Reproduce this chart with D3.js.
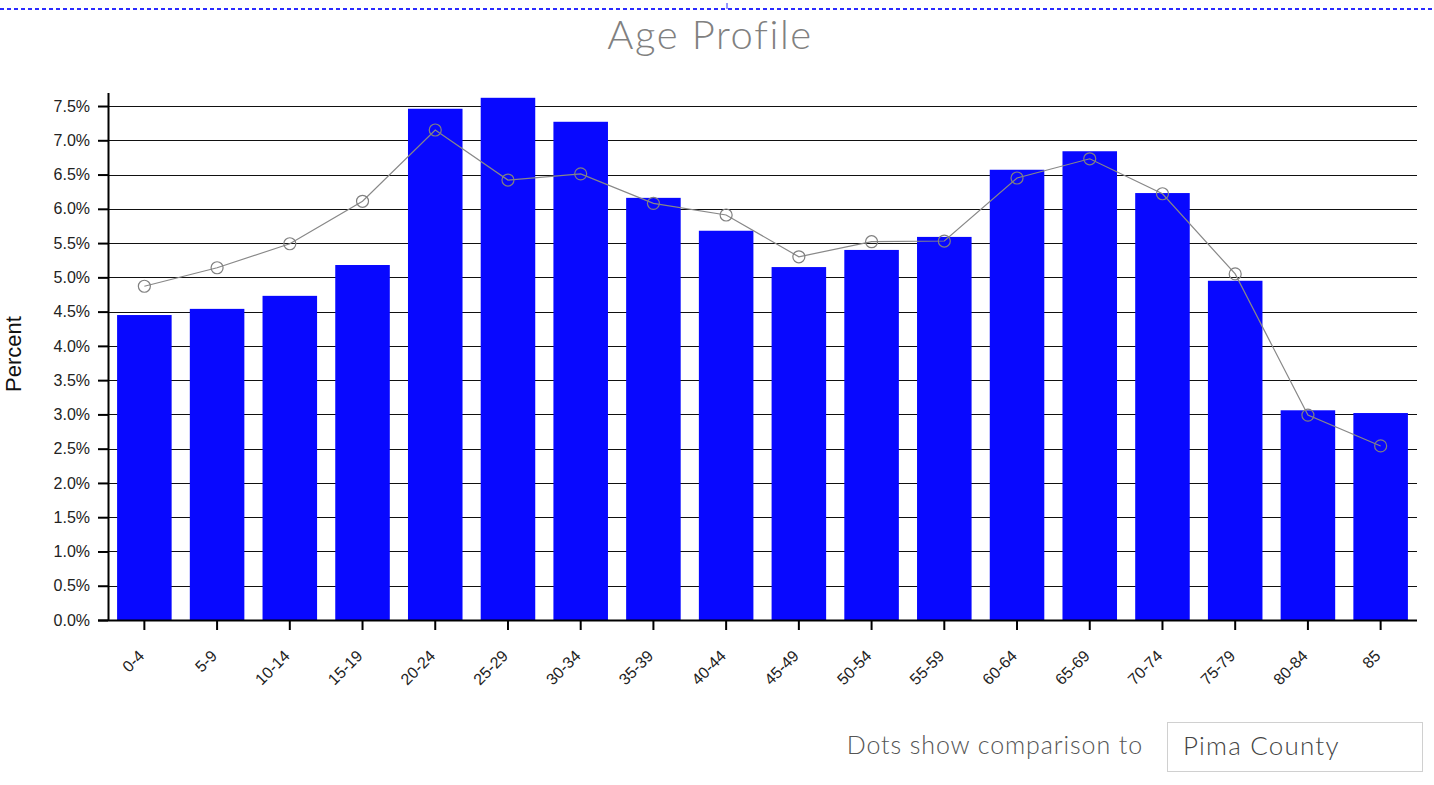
<!DOCTYPE html>
<html lang="en">
    <head>
        <meta charset="UTF-8" />
        <title>Age Profile</title>
        <style>
            body {
                margin: 0;
                width: 1434px;
                height: 785px;
                background: #fff;
                overflow: hidden;
            }
            svg {
                display: block;
            }
            .title {
                font: 300 40px "Lato", sans-serif;
                letter-spacing: 1.6px;
                fill: #808080;
            }
            .tick text {
                font: 16px "Liberation Sans", Arial, sans-serif;
                fill: #222;
            }
            .grid line {
                stroke: #111;
                stroke-width: 1px;
            }
            .axisLabel {
                font: 22px "Liberation Sans", Arial, sans-serif;
                fill: #111;
            }
            .note {
                font: 300 25px "Lato", sans-serif;
                letter-spacing: 0.9px;
                fill: #555;
            }
            .boxText {
                font: 300 26px "Lato", sans-serif;
                letter-spacing: 1.2px;
                fill: #444;
            }
        </style>
    </head>
    <body>
        <script src="https://cdnjs.cloudflare.com/ajax/libs/d3/7.9.0/d3.min.js"></script>
        <svg width="1434" height="785"></svg>
        <script>
            // age groups
            const ageGroups = ["0-4", "5-9", "10-14", "15-19", "20-24", "25-29", "30-34", "35-39", "40-44",
                "45-49", "50-54", "55-59", "60-64", "65-69", "70-74", "75-79", "80-84", "85"];
            // bar values (percent)
            const areaPct = [4.45, 4.54, 4.73, 5.18, 7.46, 7.62, 7.27, 6.16, 5.68,
                5.15, 5.40, 5.59, 6.57, 6.84, 6.23, 4.95, 3.06, 3.02];
            // comparison dots (Pima County, percent)
            const countyPct = [4.87, 5.14, 5.49, 6.11, 7.15, 6.42, 6.51, 6.08, 5.91,
                5.30, 5.52, 5.53, 6.45, 6.73, 6.22, 5.05, 2.99, 2.54];
            const yTicks = [0, 0.5, 1, 1.5, 2, 2.5, 3, 3.5, 4, 4.5, 5, 5.5, 6, 6.5, 7, 7.5];

            const svg = d3.select("svg");
            const plotLeft = 108, plotRight = 1417, plotTop = 93, plotBottom = 620;

            // dashed line at very top
            svg.append("line")
                .attr("x1", 0).attr("x2", 1434)
                .attr("y1", 9).attr("y2", 9)
                .attr("stroke", "#2b2bff")
                .attr("stroke-width", 2)
                .attr("stroke-dasharray", "4,3");
            svg.append("line")
                .attr("x1", 727).attr("x2", 727)
                .attr("y1", 3).attr("y2", 9)
                .attr("stroke", "#2b2bff");

            svg.append("text")
                .attr("class", "title")
                .attr("x", 710)
                .attr("y", 49)
                .attr("text-anchor", "middle")
                .text("Age Profile");

            const x = d3.scaleBand()
                .domain(ageGroups)
                .range([plotLeft, plotRight])
                .paddingInner(0.25)
                .paddingOuter(0.125);
            const y = d3.scaleLinear()
                .domain([0, 7.69])
                .range([plotBottom, plotTop]);

            // gridlines
            svg.append("g")
                .attr("class", "grid")
                .selectAll("line")
                .data(yTicks)
                .enter()
                .append("line")
                .attr("x1", plotLeft)
                .attr("x2", plotRight)
                .attr("y1", (d) => Math.round(y(d)) + 0.5)
                .attr("y2", (d) => Math.round(y(d)) + 0.5);

            // bars
            svg.append("g")
                .selectAll("rect")
                .data(ageGroups)
                .enter()
                .append("rect")
                .attr("x", (d) => x(d))
                .attr("width", x.bandwidth())
                .attr("y", (d, i) => y(areaPct[i]))
                .attr("height", (d, i) => plotBottom - y(areaPct[i]))
                .attr("fill", "#0808ff");

            // comparison line + dots
            const line = d3.line()
                .x((d, i) => x(ageGroups[i]) + x.bandwidth() / 2)
                .y((d) => y(d));
            svg.append("path")
                .datum(countyPct)
                .attr("d", line)
                .attr("fill", "none")
                .attr("stroke", "#888")
                .attr("stroke-width", 1.2);
            svg.append("g")
                .selectAll("circle")
                .data(countyPct)
                .enter()
                .append("circle")
                .attr("cx", (d, i) => x(ageGroups[i]) + x.bandwidth() / 2)
                .attr("cy", (d) => y(d))
                .attr("r", 6)
                .attr("fill", "none")
                .attr("stroke", "#808080")
                .attr("stroke-width", 1.2);

            // y axis
            const yAxis = svg.append("g")
                .attr("transform", "translate(" + plotLeft + ",0)")
                .call(d3.axisLeft(y).tickValues(yTicks).tickSize(10).tickPadding(8).tickFormat((d) => d.toFixed(1) + "%"));
            yAxis.select(".domain").attr("d", `M0.5,${plotTop}V${plotBottom}`).attr("stroke-width", 2);
            yAxis.selectAll(".tick line").attr("stroke-width", 2);

            // x axis
            const xAxis = svg.append("g")
                .attr("transform", "translate(0," + plotBottom + ")")
                .call(d3.axisBottom(x).tickSize(10));
            xAxis.select(".domain").attr("d", `M${plotLeft - 10},0.5H${plotRight}`).attr("stroke-width", 2);
            xAxis.selectAll(".tick line").attr("stroke-width", 2);
            xAxis.selectAll(".tick text")
                .attr("text-anchor", "end")
                .attr("x", 0)
                .attr("y", 0)
                .attr("dy", 0)
                .attr("transform", "translate(1,37) rotate(-45)");

            svg.append("text")
                .attr("class", "axisLabel")
                .attr("transform", "translate(21,354) rotate(-90)")
                .attr("text-anchor", "middle")
                .text("Percent");

            // comparison selector
            svg.append("text")
                .attr("class", "note")
                .attr("x", 1143)
                .attr("y", 754)
                .attr("text-anchor", "end")
                .text("Dots show comparison to");
            svg.append("rect")
                .attr("x", 1167.5).attr("y", 722.5)
                .attr("width", 255).attr("height", 49)
                .attr("fill", "#fff")
                .attr("stroke", "#d0d0d0");
            svg.append("text")
                .attr("class", "boxText")
                .attr("x", 1183)
                .attr("y", 755)
                .text("Pima County");
        </script>
    </body>
</html>
